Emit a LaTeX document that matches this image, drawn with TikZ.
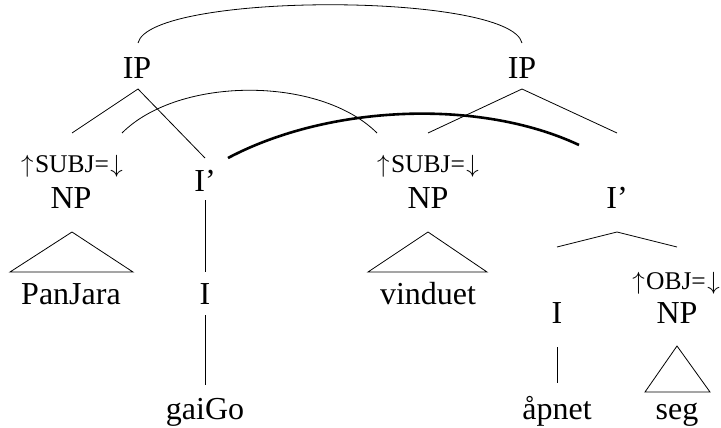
\documentclass[tikz,border=0pt]{standalone}
\usepackage{fontspec}
\setmainfont{Liberation Serif}
\newcommand{\fup}{\makebox[0.6em]{$\uparrow$}}
\newcommand{\fdown}{\makebox[0.6em]{$\downarrow$}}
\begin{document}
\begin{tikzpicture}[x=1pt,y=-1pt,
  lbl/.style={anchor=base,inner sep=0pt,font=\fontsize{32}{36}\selectfont},
  fl/.style={anchor=base,inner sep=0pt,font=\fontsize{25.5}{30}\selectfont},
  br/.style={line width=0.8pt},
  arcthin/.style={line width=0.8pt},
  arcthick/.style={line width=2.6pt}]
\useasboundingbox (0,0) rectangle (721,428);
% nodes
\node[lbl] (ip1) at (137,78) {IP};
\node[lbl] (ip2) at (522,78) {IP};
\node[fl] (subj1) at (72,172) {\fup SUBJ=\fdown};
\node[lbl] (np1) at (71,208) {NP};
\node[lbl] (ib1) at (205,191) {I’};
\node[lbl] (i1) at (205,304) {I};
\node[lbl] (w1) at (71,304) {PanJara};
\node[lbl] (w2) at (205,419) {gaiGo};
\node[fl] (subj2) at (428,172) {\fup SUBJ=\fdown};
\node[lbl] (np2) at (428,208) {NP};
\node[lbl] (w3) at (428,304) {vinduet};
\node[lbl] (ib2) at (617,208) {I’};
\node[fl] (obj) at (676,289) {\fup OBJ=\fdown};
\node[lbl] (i2) at (557,323) {I};
\node[lbl] (np3) at (677,323) {NP};
\node[lbl] (w4) at (557,419) {åpnet};
\node[lbl] (w5) at (677,419) {seg};
% coordinates
\coordinate (a1) at (138,89);
\coordinate (a1l) at (72,133);
\coordinate (a1r) at (205,158);
\coordinate (a2) at (522,89);
\coordinate (a2l) at (428,133);
\coordinate (a2r) at (617,133);
\coordinate (a3) at (617,232);
\coordinate (a3l) at (557,247);
\coordinate (a3r) at (677,247);
\coordinate (v1t) at (205,200);
\coordinate (v1b) at (205,272);
\coordinate (v2t) at (205,315);
\coordinate (v2b) at (205,385);
\coordinate (v3t) at (557,347);
\coordinate (v3b) at (557,383);
\coordinate (t1a) at (72,232);
\coordinate (t1l) at (10,272);
\coordinate (t1r) at (133,272);
\coordinate (t2a) at (428,232);
\coordinate (t2l) at (368,272);
\coordinate (t2r) at (487,272);
\coordinate (t3a) at (677,346);
\coordinate (t3l) at (645,392);
\coordinate (t3r) at (710,392);
\coordinate (c1s) at (138,43);
\coordinate (c1e) at (522,43);
\coordinate (c2s) at (122,133);
\coordinate (c2e) at (377,133);
\coordinate (c3s) at (228,158);
\coordinate (c3e) at (579,145);
% branches
\draw[br] (a1l) -- (a1) -- (a1r);
\draw[br] (a2l) -- (a2) -- (a2r);
\draw[br] (a3l) -- (a3) -- (a3r);
\draw[br] (v1t) -- (v1b);
\draw[br] (v2t) -- (v2b);
\draw[br] (v3t) -- (v3b);
\draw[br] (t1a) -- (t1l) -- (t1r) -- cycle;
\draw[br] (t2a) -- (t2l) -- (t2r) -- cycle;
\draw[br] (t3a) -- (t3l) -- (t3r) -- cycle;
% arcs
\draw[arcthin] (c1s) .. controls (150,-8) and (510,-8) .. (c1e);
\draw[arcthin] (c2s) .. controls (179,76) and (320,76) .. (c2e);
\draw[arcthick] (c3s) .. controls (328,105) and (479,98) .. (c3e);
\end{tikzpicture}
\end{document}
